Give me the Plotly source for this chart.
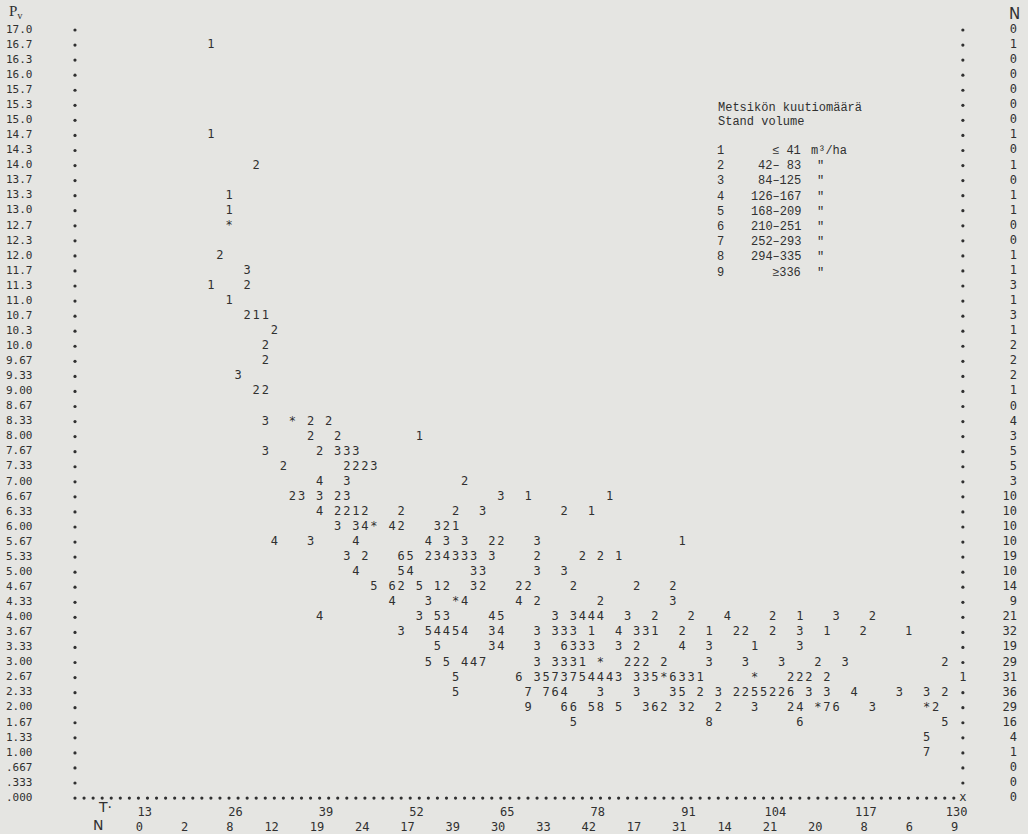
import plotly.graph_objects as go

# ---------------- data ----------------
pv_labels = ["17.0", "16.7", "16.3", "16.0", "15.7", "15.3", "15.0", "14.7", "14.3",
             "14.0", "13.7", "13.3", "13.0", "12.7", "12.3", "12.0", "11.7", "11.3",
             "11.0", "10.7", "10.3", "10.0", "9.67", "9.33", "9.00", "8.67", "8.33",
             "8.00", "7.67", "7.33", "7.00", "6.67", "6.33", "6.00", "5.67", "5.33",
             "5.00", "4.67", "4.33", "4.00", "3.67", "3.33", "3.00", "2.67", "2.33",
             "2.00", "1.67", "1.33", "1.00", ".667", ".333", ".000"]

# number of stands per Pv row (right margin)
row_n = [0, 1, 0, 0, 0, 0, 0, 1, 0, 1, 0, 1, 1, 0, 0, 1, 1, 3, 1, 3, 1, 2, 2, 2, 1, 0,
         4, 3, 5, 5, 3, 10, 10, 10, 10, 19, 10, 14, 9, 21, 32, 19, 29, 31, 36, 29, 16,
         4, 1, 0, 0, 0]

# T axis tick labels and counts per half interval (bottom margin)
t_ticks = [13, 26, 39, 52, 65, 78, 91, 104, 117, 130]
t_bin_n = [0, 2, 8, 12, 19, 24, 17, 39, 30, 33, 42, 17, 31, 14, 21, 20, 8, 6, 9]

# printed plot rows: (row label, [(print column, volume-class symbols), ...])
plot_rows = {
    "16.7": [(15, "1")],
    "14.7": [(15, "1")],
    "14.0": [(20, "2")],
    "13.3": [(17, "1")],
    "13.0": [(17, "1")],
    "12.7": [(17, "*")],
    "12.0": [(16, "2")],
    "11.7": [(19, "3")],
    "11.3": [(15, "1"), (19, "2")],
    "11.0": [(17, "1")],
    "10.7": [(19, "211")],
    "10.3": [(22, "2")],
    "10.0": [(21, "2")],
    "9.67": [(21, "2")],
    "9.33": [(18, "3")],
    "9.00": [(20, "22")],
    "8.33": [(21, "3"), (24, "*"), (26, "2"), (28, "2")],
    "8.00": [(26, "2"), (29, "2"), (38, "1")],
    "7.67": [(21, "3"), (27, "2"), (29, "333")],
    "7.33": [(23, "2"), (30, "2223")],
    "7.00": [(27, "4"), (30, "3"), (43, "2")],
    "6.67": [(24, "23"), (27, "3"), (29, "23"), (47, "3"), (50, "1"), (59, "1")],
    "6.33": [(27, "4"), (29, "2212"), (36, "2"), (42, "2"), (45, "3"), (54, "2"), (57, "1")],
    "6.00": [(29, "3"), (31, "34*"), (35, "42"), (40, "321")],
    "5.67": [(22, "4"), (26, "3"), (31, "4"), (39, "4"), (41, "3"), (43, "3"), (46, "22"),
             (51, "3"), (67, "1")],
    "5.33": [(30, "3"), (32, "2"), (36, "65"), (39, "234333"), (46, "3"), (51, "2"),
             (56, "2"), (58, "2"), (60, "1")],
    "5.00": [(31, "4"), (36, "54"), (44, "33"), (51, "3"), (54, "3")],
    "4.67": [(33, "5"), (35, "62"), (38, "5"), (40, "12"), (44, "32"), (49, "22"),
             (55, "2"), (62, "2"), (66, "2")],
    "4.33": [(35, "4"), (39, "3"), (42, "*4"), (49, "4"), (51, "2"), (58, "2"), (66, "3")],
    "4.00": [(27, "4"), (38, "3"), (40, "53"), (46, "45"), (53, "3"), (55, "3444"),
             (61, "3"), (64, "2"), (68, "2"), (72, "4"), (77, "2"), (80, "1"), (84, "3"),
             (88, "2")],
    "3.67": [(36, "3"), (39, "54454"), (46, "34"), (51, "3"), (53, "333"), (57, "1"),
             (60, "4"), (62, "331"), (67, "2"), (70, "1"), (73, "22"), (77, "2"),
             (80, "3"), (83, "1"), (87, "2"), (92, "1")],
    "3.33": [(40, "5"), (46, "34"), (51, "3"), (54, "6333"), (60, "3"), (62, "2"),
             (67, "4"), (70, "3"), (75, "1"), (80, "3")],
    "3.00": [(39, "5"), (41, "5"), (43, "447"), (51, "3"), (53, "3331"), (58, "*"),
             (61, "222"), (65, "2"), (70, "3"), (74, "3"), (78, "3"), (82, "2"),
             (85, "3"), (96, "2")],
    "2.67": [(42, "5"), (49, "6"), (51, "3573754443"), (62, "335*6331"), (75, "*"),
             (79, "222"), (83, "2"), (98, "1")],
    "2.33": [(42, "5"), (50, "7"), (52, "764"), (58, "3"), (62, "3"), (66, "35"),
             (69, "2"), (71, "3"), (73, "2255226"), (81, "3"), (83, "3"), (86, "4"),
             (91, "3"), (94, "3"), (96, "2")],
    "2.00": [(50, "9"), (54, "66"), (57, "58"), (60, "5"), (63, "362"), (67, "32"),
             (71, "2"), (75, "3"), (79, "24"), (82, "*76"), (88, "3"), (94, "*2")],
    "1.67": [(55, "5"), (70, "8"), (80, "6"), (96, "5")],
    "1.33": [(94, "5")],
    "1.00": [(94, "7")],
}

legend_title = ["Metsikön kuutiomäärä", "Stand volume"]
legend_class = ["1", "2", "3", "4", "5", "6", "7", "8", "9"]
legend_range = ["≤ 41", "42– 83", "84–125", "126–167", "168–209", "210–251",
                "252–293", "294–335", "≥336"]
legend_unit = ["m³/ha", '"', '"', '"', '"', '"', '"', '"', '"']

# ---------------- scales of the printed plot ----------------
T0, DT = 2.6, 1.3          # T value of print column 0 and per column
N_COLS = 98                # right frame column (T = 130)
W, H = 1028, 834
PX_PER_T = 9.06 / DT
X0_PX = 75.0               # pixel of column 0
Y17_PX = 30.0              # pixel of the 17.0 row
PX_PER_PV = 15.06 * 3

def col_T(c):
    return T0 + DT * c

def px_T(px):
    return T0 + (px - X0_PX) / PX_PER_T

def py_Pv(py):
    return 17.0 - (py - Y17_PX) / PX_PER_PV

pv_vals = [17.0 - i / 3.0 for i in range(len(pv_labels))]
pv_of = dict(zip(pv_labels, pv_vals))

INK = "rgb(48,48,48)"
PAPER = "rgb(229,229,226)"
MONO = "DejaVu Sans Mono"
FS = 12

fig = go.Figure()

# occupied cells (a symbol printed on the frame replaces the frame dot)
occupied = set()
for lab, segs in plot_rows.items():
    for c0, s in segs:
        for k in range(len(s)):
            occupied.add((lab, c0 + k))

# frame: left and right dotted columns, bottom dotted row
frame_x, frame_y = [], []
for lab, v in zip(pv_labels[:-1], pv_vals[:-1]):
    for c in (0, N_COLS):
        if (lab, c) not in occupied:
            frame_x.append(col_T(c))
            frame_y.append(v)
for c in range(0, N_COLS):
    frame_x.append(col_T(c))
    frame_y.append(pv_vals[-1])
fig.add_trace(go.Scatter(x=frame_x, y=frame_y, mode="markers",
                         marker=dict(size=3.2, color=INK), hoverinfo="skip"))
fig.add_trace(go.Scatter(x=[col_T(N_COLS)], y=[pv_vals[-1]], mode="text", text=["x"],
                         textfont=dict(family=MONO, size=FS, color=INK),
                         textposition="middle center", hoverinfo="skip"))

# data symbols
sx, sy, st = [], [], []
for lab, segs in plot_rows.items():
    for c0, s in segs:
        for k, ch in enumerate(s):
            sx.append(col_T(c0 + k))
            sy.append(pv_of[lab])
            st.append(ch)
fig.add_trace(go.Scatter(x=sx, y=sy, mode="text", text=st,
                         textfont=dict(family=MONO, size=FS, color=INK),
                         textposition="middle center", hoverinfo="skip"))

# left Pv labels
fig.add_trace(go.Scatter(x=[px_T(6)] * len(pv_labels), y=pv_vals, mode="text",
                         text=pv_labels, textposition="middle right",
                         textfont=dict(family=MONO, size=11, color=INK), hoverinfo="skip"))

# right N column
fig.add_trace(go.Scatter(x=[px_T(1017)] * len(row_n), y=pv_vals, mode="text",
                         text=[str(n) for n in row_n], textposition="middle left",
                         textfont=dict(family=MONO, size=FS, color=INK), hoverinfo="skip"))

# bottom T tick labels (right-justified on tick column)
t_row = pv_vals[-1] - 1 / 3
n_row = pv_vals[-1] - 2 / 3
fig.add_trace(go.Scatter(x=[t + DT / 2 for t in t_ticks], y=[t_row] * len(t_ticks),
                         mode="text", text=[str(t) for t in t_ticks],
                         textposition="middle left",
                         textfont=dict(family=MONO, size=FS, color=INK), hoverinfo="skip"))
bin_T = [13 + 6.5 * k - DT for k in range(len(t_bin_n))]
fig.add_trace(go.Scatter(x=[t + DT / 2 for t in bin_T], y=[n_row] * len(t_bin_n),
                         mode="text", text=[str(n) for n in t_bin_n],
                         textposition="middle left",
                         textfont=dict(family=MONO, size=FS, color=INK), hoverinfo="skip"))

# axis letters
def paper_note(px, py, text, family, size, anchor="left"):
    return dict(x=px / W, y=1 - py / H, xref="paper", yref="paper", text=text,
                showarrow=False, xanchor=anchor, yanchor="middle",
                font=dict(family=family, size=size, color=INK))

ann = [
    paper_note(7, 12, "P<sub>v</sub>", "Liberation Serif", 15),
    paper_note(1014, 14, "N", "DejaVu Sans", 15, "center"),
    paper_note(96, 807, "T·", "DejaVu Sans", 14, "left"),
    paper_note(98, 825, "N", "DejaVu Sans", 14, "center"),
]

# legend block (typewritten)
LEG = "Liberation Mono"
for i, t in enumerate(legend_title):
    ann.append(paper_note(716, 108 + 14 * i, t, LEG, 12))
for i, (c, r, u) in enumerate(zip(legend_class, legend_range, legend_unit)):
    yy = 151 + 15.2 * i
    ann.append(paper_note(720, yy, c, LEG, 12, "center"))
    ann.append(paper_note(803, yy, r, LEG, 12, "right"))
    ann.append(paper_note(809 if i == 0 else 815, yy, u, LEG, 12))

fig.update_layout(
    width=W, height=H, autosize=False,
    margin=dict(l=0, r=0, t=0, b=0, pad=0),
    paper_bgcolor=PAPER, plot_bgcolor=PAPER,
    showlegend=False,
    xaxis=dict(range=[px_T(0), px_T(W)], visible=False, fixedrange=True),
    yaxis=dict(range=[py_Pv(H), py_Pv(0)], visible=False, fixedrange=True),
    annotations=ann,
)

fig.write_html("out.html", config={"displayModeBar": False},
               post_script="document.body.style.margin='0';document.body.style.overflow='hidden';")
